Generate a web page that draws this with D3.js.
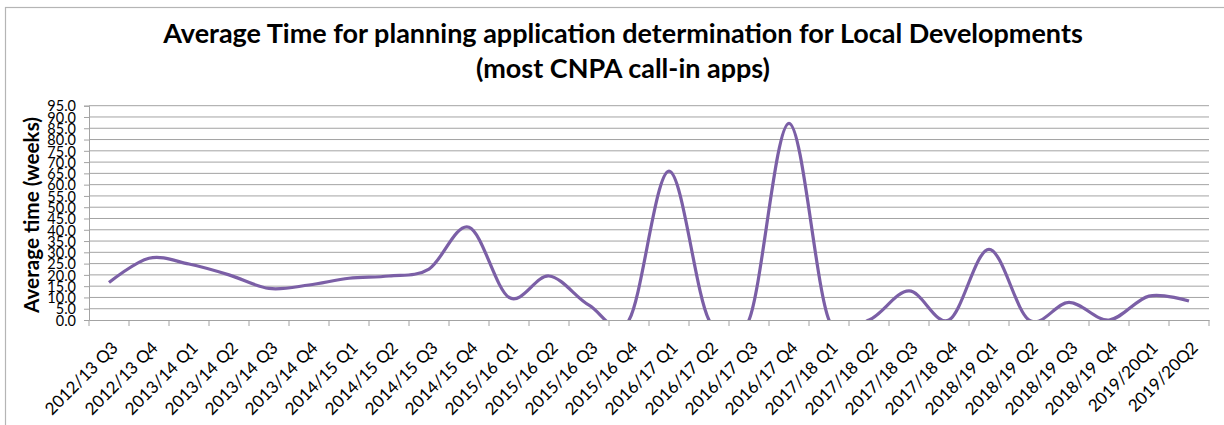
<!DOCTYPE html>
<html>
<head>
<meta charset="utf-8">
<script src="https://cdn.jsdelivr.net/npm/d3@7"></script>
<style>
  html, body { margin: 0; padding: 0; background: #fff; }
  svg { display: block; }
</style>
</head>
<body>
<svg id="chart" width="1224" height="425"></svg>
<script>
// ---- data ----
const categories = [
  "2012/13 Q3","2012/13 Q4",
  "2013/14 Q1","2013/14 Q2","2013/14 Q3","2013/14 Q4",
  "2014/15 Q1","2014/15 Q2","2014/15 Q3","2014/15 Q4",
  "2015/16 Q1","2015/16 Q2","2015/16 Q3","2015/16 Q4",
  "2016/17 Q1","2016/17 Q2","2016/17 Q3","2016/17 Q4",
  "2017/18 Q1","2017/18 Q2","2017/18 Q3","2017/18 Q4",
  "2018/19 Q1","2018/19 Q2","2018/19 Q3","2018/19 Q4",
  "2019/20Q1","2019/20Q2"
];
const avgWeeks = [
  16.6, 27.4,
  24.8, 20.0, 14.0, 15.5,
  18.5, 19.5, 22.6, 41.1,
  10.0, 19.5, 6.6, 0,
  66.0, 0, 0, 87.2,
  0, 0, 12.9, 0,
  31.3, 0, 7.8, 0,
  10.6, 8.4
];
const yTicks = [0,5,10,15,20,25,30,35,40,45,50,55,60,65,70,75,80,85,90,95];
const titleLines = [
  "Average Time for planning application determination for Local Developments",
  "(most CNPA call-in apps)"
];
const yAxisTitle = "Average time (weeks)";

// ---- layout ----
const svg = d3.select("#chart");
const plot = { left: 89, right: 1209, top: 105.7, bottom: 320 };
const font = "Lato, 'Open Sans', 'Liberation Sans', sans-serif";
const gridColor = "#a3a3a3";
const lineColor = "#7b5fa6";

// chart border
svg.append("rect")
  .attr("x", 5.5).attr("y", 7.5)
  .attr("width", 1240).attr("height", 440)
  .attr("fill", "none").attr("stroke", "#b5b5b5").attr("stroke-width", 1.2);

const x = d3.scaleBand().domain(categories).range([plot.left, plot.right]).padding(0);
const y = d3.scaleLinear().domain([0, 95]).range([plot.bottom, plot.top]);

// gridlines
svg.append("g")
  .selectAll("line")
  .data(yTicks.filter(d => d > 0))
  .join("line")
  .attr("x1", plot.left).attr("x2", plot.right)
  .attr("y1", d => y(d)).attr("y2", d => y(d))
  .attr("stroke", gridColor).attr("stroke-width", 1);

// y axis
const yAxis = svg.append("g")
  .attr("transform", `translate(${plot.left},0)`)
  .call(d3.axisLeft(y).tickValues(yTicks).tickSize(5).tickPadding(8).tickFormat(d3.format(".1f")));
yAxis.select(".domain").attr("stroke", gridColor);
yAxis.selectAll(".tick line").attr("stroke", gridColor);
yAxis.selectAll(".tick text")
  .attr("font-family", font).attr("font-size", 14.5).attr("fill", "#000")
  .attr("dy", "0.36em");

// x axis
const xAxis = svg.append("g")
  .attr("transform", `translate(0,${plot.bottom})`)
  .call(d3.axisBottom(x).tickSize(0).tickFormat(""));
xAxis.select(".domain").attr("stroke", gridColor);
xAxis.selectAll(".tick").remove();
// boundary tick marks
const bounds = categories.map(c => x(c)).concat([x(categories[categories.length - 1]) + x.bandwidth()]);
svg.append("g").selectAll("line").data(bounds).join("line")
  .attr("x1", d => d).attr("x2", d => d)
  .attr("y1", plot.bottom).attr("y2", plot.bottom + 6)
  .attr("stroke", gridColor);

// x labels rotated
svg.append("g").selectAll("text").data(categories).join("text")
  .attr("transform", d => `translate(${x(d) + x.bandwidth() / 2 + 10},${plot.bottom + 29}) rotate(-45)`)
  .attr("text-anchor", "end")
  .attr("font-family", font).attr("font-size", 17).attr("fill", "#000")
  .text(d => d);

// clipped smooth line
svg.append("clipPath").attr("id", "plotclip")
  .append("rect").attr("x", plot.left).attr("y", 0)
  .attr("width", plot.right - plot.left).attr("height", plot.bottom);

const line = d3.line()
  .x((d, i) => x(categories[i]) + x.bandwidth() / 2)
  .y(d => y(d))
  .curve(d3.curveCardinal.tension(0));

svg.append("path")
  .datum(avgWeeks)
  .attr("clip-path", "url(#plotclip)")
  .attr("d", line)
  .attr("fill", "none")
  .attr("stroke", lineColor)
  .attr("stroke-width", 3.2)
  .attr("stroke-linejoin", "round");

// title
const t1 = svg.append("text")
  .attr("x", 623).attr("y", 43)
  .attr("text-anchor", "middle")
  .attr("font-family", font).attr("font-weight", "bold").attr("font-size", 26).attr("fill", "#000")
  .text(titleLines[0]);
const w1 = t1.node().getComputedTextLength();
const titleSize = 26 * 920 / w1;
t1.attr("font-size", titleSize);
svg.append("text")
  .attr("x", 623).attr("y", 78)
  .attr("text-anchor", "middle")
  .attr("font-family", font).attr("font-weight", "bold").attr("font-size", titleSize).attr("fill", "#000")
  .text(titleLines[1]);

// y axis title
const yt = svg.append("text")
  .attr("transform", `translate(39,215) rotate(-90)`)
  .attr("text-anchor", "middle")
  .attr("font-family", font).attr("font-weight", "bold").attr("font-size", 18).attr("fill", "#000")
  .text(yAxisTitle);
const wy = yt.node().getComputedTextLength();
yt.attr("font-size", 18 * 196 / wy);
</script>
</body>
</html>
